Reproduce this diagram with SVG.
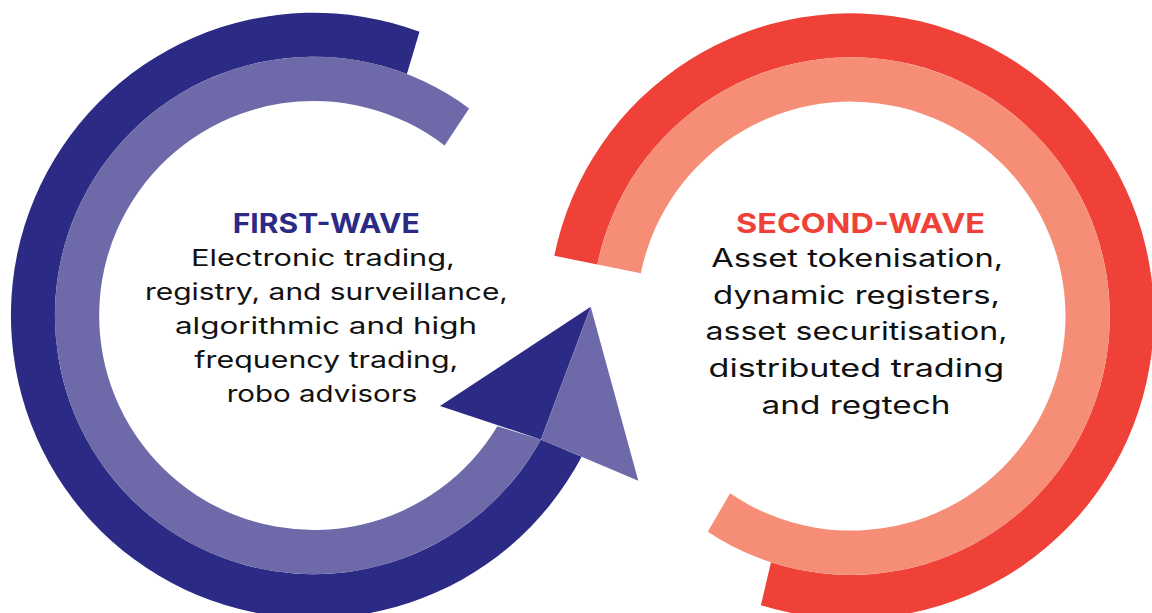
<svg xmlns="http://www.w3.org/2000/svg" width="1152" height="613" viewBox="0 0 1152 613">
  <style>
    .navy { fill: #2b2a85; }
    .violet { fill: #6e6aa9; }
    .red { fill: #ef4137; }
    .salmon { fill: #f68e77; }
    .title { font-family: Inter, "Liberation Sans", sans-serif; font-weight: 700; font-size: 27px; }
    .body { font-family: Inter, "Liberation Sans", sans-serif; font-weight: 400; fill: #111111; }
    .left { font-size: 23px; }
    .right { font-size: 25px; }
  </style>
  <rect width="1152" height="613" fill="#ffffff"/>

  <!-- First wave: two concentric bands sweeping round to the arrow -->
  <g id="first-wave">
    <path class="navy" d="M540.9 439.4 L581.6 456.7 A302.8 302.8 0 1 1 419.5 31.8 L406.9 74.0 A258.8 258.8 0 1 0 540.9 439.4 Z"/>
    <path class="violet" d="M497.4 426.2 L540.9 439.4 A258.8 258.8 0 1 1 469.1 108.5 L444.6 145.6 A214.5 214.5 0 1 0 497.4 426.2 Z"/>
    <text class="title" fill="#2b2a85" x="232.7" y="232.7" textLength="187" lengthAdjust="spacingAndGlyphs">FIRST-WAVE</text>
    <text class="body left" x="191" y="266" textLength="264" lengthAdjust="spacingAndGlyphs">Electronic trading,</text>
    <text class="body left" x="145" y="300" textLength="363" lengthAdjust="spacingAndGlyphs">registry, and surveillance,</text>
    <text class="body left" x="175" y="334" textLength="302" lengthAdjust="spacingAndGlyphs">algorithmic and high</text>
    <text class="body left" x="194.3" y="367.5" textLength="264" lengthAdjust="spacingAndGlyphs">frequency trading,</text>
    <text class="body left" x="226.7" y="401.5" textLength="190.7" lengthAdjust="spacingAndGlyphs">robo advisors</text>
  </g>

  <!-- Second wave ring -->
  <g id="second-wave">
    <path class="red" d="M554.3 255.7 A302.8 302.8 0 1 1 760.9 605.2 L771.0 562.2 A258.8 258.8 0 1 0 597.4 264.5 Z"/>
    <path class="salmon" d="M597.4 264.5 A258.8 258.8 0 1 1 707.8 531.7 L730.1 493.3 A214.5 214.5 0 1 0 640.8 273.3 Z"/>
    <text class="title" fill="#ef4137" x="736" y="232.5" textLength="249" lengthAdjust="spacingAndGlyphs">SECOND-WAVE</text>
    <text class="body right" x="711.2" y="267" textLength="292" lengthAdjust="spacingAndGlyphs">Asset tokenisation,</text>
    <text class="body right" x="713.1" y="303.5" textLength="287" lengthAdjust="spacingAndGlyphs">dynamic registers,</text>
    <text class="body right" x="705.5" y="340" textLength="302" lengthAdjust="spacingAndGlyphs">asset securitisation,</text>
    <text class="body right" x="708.5" y="377" textLength="295.6" lengthAdjust="spacingAndGlyphs">distributed trading</text>
    <text class="body right" x="761.5" y="414" textLength="189" lengthAdjust="spacingAndGlyphs">and regtech</text>
  </g>

  <!-- Arrowhead carrying the first wave into the second -->
  <g id="connectors">
    <polygon class="navy" points="590.7,306.7 440,406 540.9,439.4"/>
    <polygon class="violet" points="590.7,306.7 540.9,439.4 638.3,480.7"/>
  </g>
</svg>
